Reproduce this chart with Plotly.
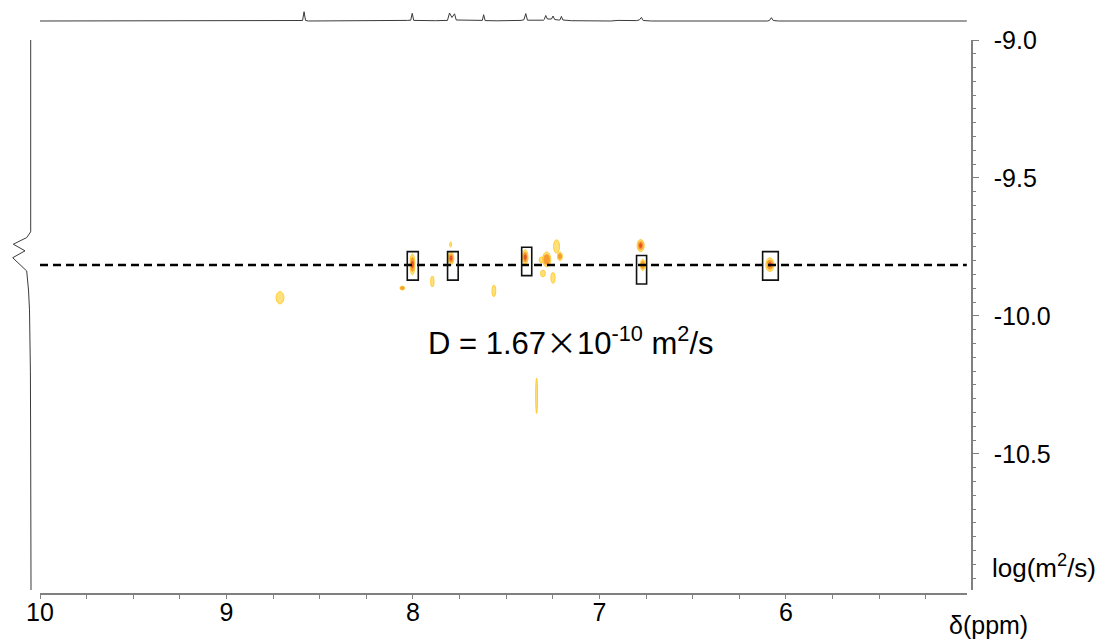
import plotly.graph_objects as go

# ---------------- data ----------------
# 1D proton projection on top (ppm, relative intensity)
top_ppm = [10.00, 8.60, 8.592, 8.584, 8.576, 8.56, 8.10, 8.03, 8.012, 8.004, 7.996, 7.95, 7.88,
           7.815, 7.804, 7.791, 7.777, 7.768, 7.72, 7.66, 7.628, 7.621, 7.613, 7.55, 7.47, 7.42,
           7.405, 7.395, 7.386, 7.35, 7.30, 7.296, 7.288, 7.279, 7.257, 7.249, 7.240, 7.22,
           7.212, 7.204, 7.196, 7.15, 7.05, 6.94, 6.90, 6.82, 6.80, 6.785, 6.775, 6.765, 6.72,
           6.10, 6.088, 6.078, 6.068, 6.04, 5.03]
top_int = [0, 0, 0.5, 9.3, 0.5, 0, 0, 0.6, 0.8, 7.7, 0.6, 0.4, 0.3,
           0.6, 8.0, 3.5, 7.2, 1.0, 0.8, 0.6, 0.6, 6.3, 0.4, 0.2, 0.2, 0.6,
           1.2, 7.4, 0.8, 0.6, 0.8, 1.5, 5.5, 2.0, 2.0, 5.0, 1.5, 1.0,
           1.0, 4.6, 1.0, 0.3, 0, 0, 0.6, 0.8, 0.4, 1.2, 3.6, 0.5, 0,
           0, 0.6, 3.3, 0.5, 0, 0]

# 1D diffusion projection on the left (log D, relative intensity)
left_logD = [-8.99, -9.695, -9.716, -9.740, -9.764, -9.789, -9.837, -9.906, -9.978,
             -10.05, -10.20, -10.50, -10.80, -10.993]
left_int = [0.3, 0.3, 4.3, 17.7, 6.0, 18.3, 4.3, 2.5, 1.5, 1.0, 0.6, 0.3, 0.2, 0.0]

# DOSY cross peaks: centre ppm, centre log D, half width (ppm), half height (log D), contour depth
peak_ppm = [8.003, 7.796, 7.398, 6.779, 6.768, 6.086, 8.713, 8.057, 7.896, 7.798, 7.566,
            7.310, 7.283, 7.249, 7.230, 7.212, 7.303, 7.337]
peak_logD = [-9.813, -9.791, -9.787, -9.745, -9.815, -9.814, -9.934, -9.899, -9.875, -9.741,
             -9.909, -9.797, -9.795, -9.862, -9.748, -9.784, -9.846, -10.289]
peak_hw = [0.0134, 0.015, 0.015, 0.019, 0.0125, 0.022, 0.021, 0.013, 0.009, 0.005, 0.010,
           0.013, 0.022, 0.011, 0.016, 0.013, 0.013, 0.005]
peak_hh = [0.038, 0.024, 0.027, 0.022, 0.0205, 0.025, 0.0223, 0.007, 0.020, 0.009, 0.021,
           0.011, 0.027, 0.019, 0.024, 0.015, 0.012, 0.064]
peak_depth = [3, 3, 3, 3, 2, 3, 1, 2, 1, 1, 1, 1, 2, 1, 1, 2, 1, 1]

# marked signals (boxes): centre ppm, width ppm, top and bottom log D
box_ppm = [8.001, 7.786, 7.390, 6.774, 6.083]
box_w = [0.059, 0.057, 0.054, 0.054, 0.084]
box_top = [-9.767, -9.767, -9.751, -9.781, -9.767]
box_bot = [-9.870, -9.870, -9.854, -9.884, -9.870]

D_LOG = -9.815          # fitted diffusion coefficient line
x_tick_vals = [10, 9, 8, 7, 6]
x_tick_text = ["10", "9", "8", "7", "6"]
y_tick_vals = [-9.0, -9.5, -10.0, -10.5]
y_tick_text = ["-9.0", "-9.5", "-10.0", "-10.5"]

FONT = "Liberation Sans, Arial, sans-serif"
AXC = "#808080"

# page body has an 8 px margin: figure coordinates = screen - 8
OFF = 8
W, H = 1105, 633
L, T = 0, 0
R = W - (972 - OFF)
B = H - (594 - OFF)
PW = W - L - R
PH = H - T - B


def px(sx):
    return (sx - OFF - L) / PW


def py(sy):
    return (594 - sy) / PH


fig = go.Figure()

fig.add_trace(go.Scatter(x=top_ppm, y=top_int, xaxis="x", yaxis="y2", mode="lines",
                         line=dict(color="#3a3a3a", width=1), hoverinfo="skip"))
fig.add_trace(go.Scatter(x=left_int, y=left_logD, xaxis="x2", yaxis="y", mode="lines",
                         line=dict(color="#3a3a3a", width=1), hoverinfo="skip"))
fig.add_trace(go.Scatter(x=[10.0, 5.03], y=[D_LOG, D_LOG], xaxis="x", yaxis="y", mode="lines",
                         line=dict(color="black", width=2.5, dash="8px,5px"), hoverinfo="skip"))

shapes = []
levels = [(1.0, "#FFCC33", "rgba(255,222,110,0.9)"),
          (0.66, "#F7A030", "rgba(247,150,45,0.95)"),
          (0.33, "#E8542A", "rgba(232,80,40,1)")]
for p, l, hw, hh, d in zip(peak_ppm, peak_logD, peak_hw, peak_hh, peak_depth):
    for k in range(d):
        s, lc, fc = levels[k]
        shapes.append(dict(type="circle", xref="x", yref="y", layer="below",
                           x0=p - hw * s, x1=p + hw * s, y0=l - hh * s, y1=l + hh * s,
                           line=dict(color=lc, width=1), fillcolor=fc))
for c, w, t, b in zip(box_ppm, box_w, box_top, box_bot):
    shapes.append(dict(type="rect", xref="x", yref="y", layer="above",
                       x0=c - w / 2, x1=c + w / 2, y0=b, y1=t,
                       line=dict(color="#111111", width=1.6)))

annotations = [
    dict(text='D = 1.67<span style="font-family:Noto Sans CJK SC">×</span>10<sup>-10</sup> m<sup>2</sup>/s',
         x=7.150, y=-10.09, xref="x", yref="y", showarrow=False,
         font=dict(family=FONT, size=31, color="black")),
    dict(text="log(m<sup>2</sup>/s)", x=px(990), y=-10.909, xref="paper", yref="y",
         xanchor="left", showarrow=False, font=dict(family=FONT, size=26, color="black")),
    dict(text="δ(ppm)", x=px(988), y=py(625), xref="paper", yref="paper",
         xanchor="center", yanchor="middle", showarrow=False,
         font=dict(family=FONT, size=25, color="black")),
]

fig.update_layout(
    width=W, height=H,
    margin=dict(l=L, r=R, t=T, b=B, pad=0, autoexpand=False),
    paper_bgcolor="white", plot_bgcolor="white",
    showlegend=False,
    font=dict(family=FONT, size=25, color="black"),
    shapes=shapes, annotations=annotations,
    xaxis=dict(domain=[px(40), px(967)], range=[10.0, 5.029],
               anchor="free", position=0, showline=True, linecolor=AXC, linewidth=1.5,
               ticks="outside", ticklen=4, tickcolor=AXC, tickwidth=1,
               tickvals=x_tick_vals, ticktext=x_tick_text,
               minor=dict(dtick=0.25, ticklen=4, tickcolor=AXC, ticks="outside"),
               ticklabelstandoff=-8,
               showgrid=False, zeroline=False, tickfont=dict(size=25), automargin=False),
    yaxis=dict(domain=[py(590), py(40)], range=[-10.993, -9.0],
               side="right", anchor="free", position=1.0, showline=True, linecolor=AXC,
               linewidth=1.5, ticks="outside", ticklen=6, tickcolor=AXC, tickwidth=1,
               tickvals=y_tick_vals, ticktext=y_tick_text,
               minor=dict(dtick=0.05, ticklen=3, tickcolor=AXC, ticks="outside"),
               ticklabelstandoff=10,
               showgrid=False, zeroline=False, tickfont=dict(size=25), automargin=False),
    xaxis2=dict(domain=[0, px(37)], range=[23, -6], anchor="y", visible=False,
                automargin=False),
    yaxis2=dict(domain=[py(30), 1.0], range=[-9, 13], anchor="x", visible=False,
                automargin=False),
)

fig.write_html("out.html")
